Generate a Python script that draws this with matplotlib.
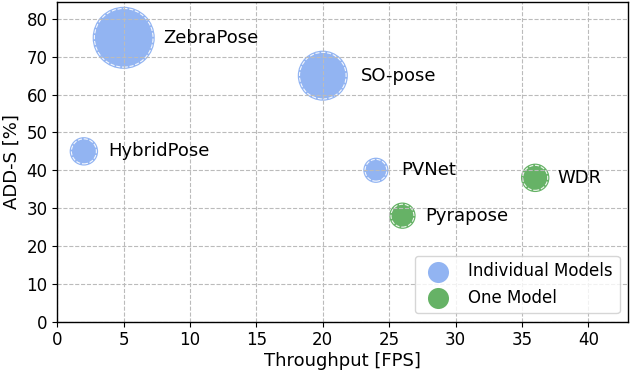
import matplotlib
matplotlib.use('Agg')
import matplotlib.pyplot as plt

names = ['ZebraPose', 'SO-pose', 'HybridPose', 'PVNet', 'Pyrapose', 'WDR']
fps = [5, 20, 2, 24, 26, 36]
adds = [75, 65, 45, 40, 28, 38]
sizes = [2000, 1300, 420, 330, 360, 420]
group = ['ind', 'ind', 'ind', 'ind', 'one', 'one']


def main():
    fig, ax = plt.subplots(figsize=(6.3, 3.74), dpi=100)

    colors = {'ind': 'cornflowerblue', 'one': 'green'}
    alphas = {'ind': 0.7, 'one': 0.6}
    labels = {'ind': 'Individual Models', 'one': 'One Model'}

    for g in ['ind', 'one']:
        xs = [x for x, k in zip(fps, group) if k == g]
        ys = [y for y, k in zip(adds, group) if k == g]
        ss = [s for s, k in zip(sizes, group) if k == g]
        ax.scatter(xs, ys, s=ss, color=colors[g], alpha=alphas[g],
                   linewidths=0, label=labels[g], zorder=1)
        # white dashed ring just inside the bubble edge
        inner = [(s ** 0.5 - 2.5) ** 2 for s in ss]
        ax.scatter(xs, ys, s=inner, facecolors='none', edgecolors='white',
                   linewidths=0.8, linestyle='--', alpha=0.9, zorder=1.2)

    # label offsets along x (data units)
    label_dx = [3.0, 2.9, 1.8, 1.9, 1.7, 1.7]
    for n, x, y, dx in zip(names, fps, adds, label_dx):
        ax.text(x + dx, y, n, va='center', ha='left', fontsize=13)

    ax.set_xlim(0, 43)
    ax.set_ylim(0, 84.5)
    ax.set_xticks(range(0, 45, 5))
    ax.set_yticks(range(0, 81, 10))
    ax.set_xlabel('Throughput [FPS]', fontsize=13, labelpad=2)
    ax.set_ylabel('ADD-S [%]', fontsize=13, labelpad=4)
    ax.tick_params(labelsize=12)
    for sp in ax.spines.values():
        sp.set_linewidth(1.0)

    ax.grid(True, linestyle='--', color='#bbbbbb', linewidth=0.8, zorder=1.5)
    ax.set_axisbelow('line')

    leg = ax.legend(loc='lower right', fontsize=12)
    for h in leg.legend_handles:
        h.set_sizes([230])
        h.set_linewidth(0)

    fig.subplots_adjust(left=0.091, right=0.997, bottom=0.14, top=0.995)
    fig.savefig('out.png', dpi=100)


if __name__ == '__main__':
    main()
